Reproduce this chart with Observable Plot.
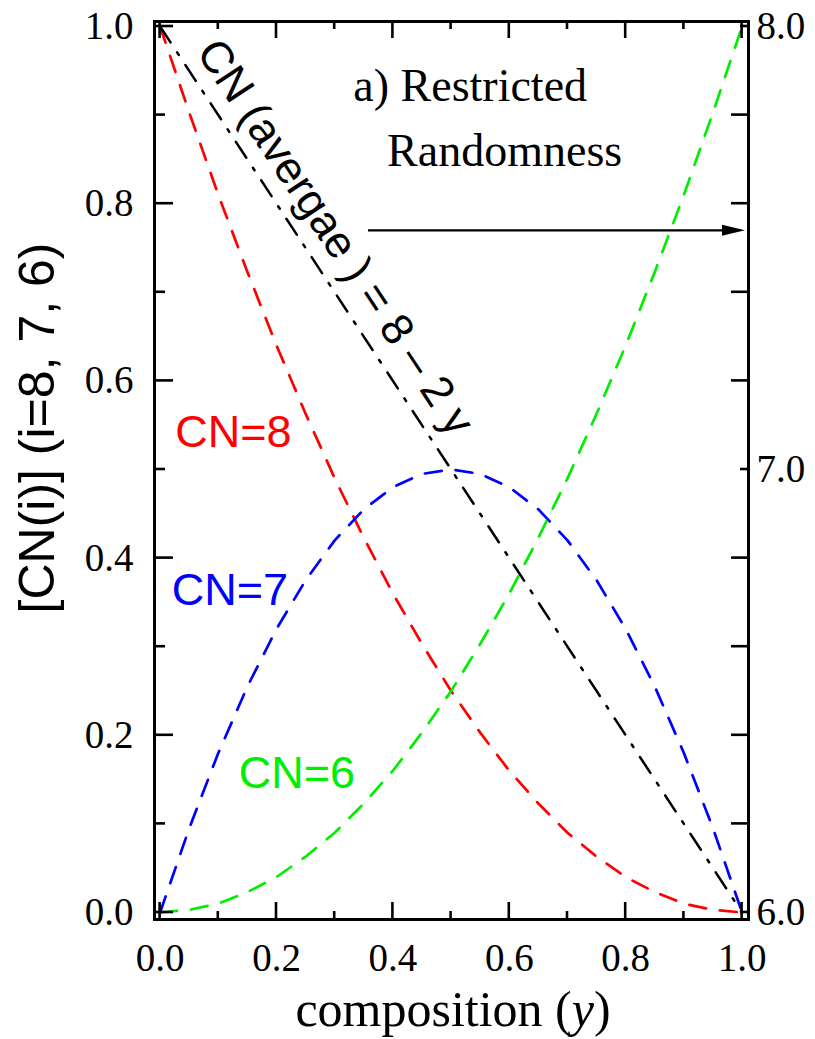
<!DOCTYPE html>
<html>
<head>
<meta charset="utf-8">
<script src="https://cdn.jsdelivr.net/npm/d3@7"></script>
<script src="https://cdn.jsdelivr.net/npm/@observablehq/plot@0.6"></script>
<style>
  html, body { margin: 0; padding: 0; background: #fff; }
  svg { display: block; }
</style>
</head>
<body>
<div id="chart"></div>
<script>
// ---- data ----
const comp = [0, 0.05, 0.10, 0.15, 0.20, 0.25, 0.30, 0.35, 0.40, 0.45, 0.50,
              0.55, 0.60, 0.65, 0.70, 0.75, 0.80, 0.85, 0.90, 0.95, 1.00];
const cn8 = [1.000, 0.903, 0.810, 0.723, 0.640, 0.563, 0.490, 0.423, 0.360, 0.303, 0.250,
             0.203, 0.160, 0.123, 0.090, 0.063, 0.040, 0.023, 0.010, 0.003, 0.000];
const cn7 = [0.000, 0.095, 0.180, 0.255, 0.320, 0.375, 0.420, 0.455, 0.480, 0.495, 0.500,
             0.495, 0.480, 0.455, 0.420, 0.375, 0.320, 0.255, 0.180, 0.095, 0.000];
const cn6 = [0.000, 0.003, 0.010, 0.023, 0.040, 0.063, 0.090, 0.123, 0.160, 0.203, 0.250,
             0.303, 0.360, 0.423, 0.490, 0.563, 0.640, 0.723, 0.810, 0.903, 1.000];
// average coordination number (right axis) at the two ends
const avgComp = [0, 1];
const avgCN = [8.0, 6.0];

const xTickLabels = [0.0, 0.2, 0.4, 0.6, 0.8, 1.0];
const xMinorTicks = [0.1, 0.3, 0.5, 0.7, 0.9];
const yTickLabels = [0.0, 0.2, 0.4, 0.6, 0.8, 1.0];
const yMinorTicks = [0.1, 0.3, 0.5, 0.7, 0.9];
const rightTickLabels = [6.0, 7.0, 8.0];
const rightMinorTicks = [6.2, 6.4, 6.6, 6.8, 7.2, 7.4, 7.6, 7.8];
const rightMin = 6.0, rightMax = 8.0;

(function () {
const arrowFrom = 0.358, arrowTo = 1.005, arrowLevel = 0.77;

const toRight = v => (v - rightMin) / (rightMax - rightMin);
const series = [
  {name: "CN=8", values: cn8, color: "#ff0000"},
  {name: "CN=7", values: cn7, color: "#0000ff"},
  {name: "CN=6", values: cn6, color: "#00ee00"}
];
const curveRows = series.flatMap(s => comp.map((c, i) => ({c, v: s.values[i], name: s.name, color: s.color})));
const avgRows = avgComp.map((c, i) => ({c, v: toRight(avgCN[i])}));

const serif = "'Liberation Serif', 'Times New Roman', serif";
const sans = "'Liberation Sans', Arial, sans-serif";

const headSymbol = {
  draw(ctx) {
    ctx.moveTo(0, 0);
    ctx.lineTo(-23, -5.5);
    ctx.lineTo(-23, 5.5);
    ctx.closePath();
  }
};

const serifLabels = [
  {c: 0.332, v: 0.916, text: "a) Restricted"},
  {c: 0.390, v: 0.843, text: "Randomness"}
];
const cnLabels = [
  {c: 0.026, v: 0.525, text: "CN=8", color: "#ff0000"},
  {c: 0.020, v: 0.347, text: "CN=7", color: "#0000ff"},
  {c: 0.135, v: 0.141, text: "CN=6", color: "#00ee00"}
];

const W = 815, H = 1039;
const mL = 154, mR = 67, mT = 21, mB = 120;

const plot = Plot.plot({
  width: W, height: H,
  marginLeft: mL, marginRight: mR, marginTop: mT, marginBottom: mB,
  x: {domain: [0, 1], insetLeft: 5.6, insetRight: 6.4},
  y: {domain: [0, 1], insetTop: 5, insetBottom: 7},
  style: {background: "white", overflow: "visible"},
  marks: [
    Plot.axisX({ticks: xTickLabels, tickSize: 0, tickPadding: 24, tickFormat: d => d.toFixed(1),
      fontSize: 39, fontFamily: serif, label: null, fill: "black"}),
    Plot.axisY({ticks: yTickLabels, tickSize: 0, tickPadding: 21, tickFormat: d => d.toFixed(1),
      fontSize: 39, fontFamily: serif, label: null, fill: "black"}),
    Plot.axisY({anchor: "right", ticks: rightTickLabels.map(toRight), tickSize: 0, tickPadding: 8,
      tickFormat: d => (rightMin + d * (rightMax - rightMin)).toFixed(1),
      fontSize: 39, fontFamily: serif, label: null, fill: "black"}),
    Plot.line(curveRows, {x: "c", y: "v", z: "name", stroke: "color", strokeWidth: 2.7,
      strokeDasharray: "17,14"}),
    Plot.line(avgRows, {x: "c", y: "v", stroke: "black", strokeWidth: 2.5,
      strokeDasharray: "19,12,3,12"}),
    Plot.ruleY([arrowLevel], {x1: arrowFrom, x2: arrowTo - 0.03, stroke: "black", strokeWidth: 2.2}),
    Plot.dot([arrowLevel], {x: () => arrowTo, y: d => d, symbol: headSymbol, fill: "black", stroke: "none", r: 5}),
    Plot.text(serifLabels, {x: "c", y: "v", text: "text", fill: "black", fontFamily: serif, fontSize: 46,
      textAnchor: "start", lineAnchor: "bottom"}),
    Plot.text(cnLabels, {x: "c", y: "v", text: "text", fill: "color", fontFamily: sans, fontSize: 45,
      textAnchor: "start", lineAnchor: "bottom"}),
    Plot.text(["CN (avergae ) = 8 \u2013 2 y"], {x: () => 0.301, y: () => 0.762, text: d => d,
      rotate: 56.5, fill: "black", fontFamily: sans, fontSize: 44.5, textAnchor: "middle", lineAnchor: "middle"}),
    Plot.frame({stroke: "black", strokeWidth: 3})
  ]
});

const sx = plot.scale("x"), sy = plot.scale("y");
const svg = d3.select(plot);
const fl = mL, fr = W - mR, ft = mT, fb = H - mB;
const tg = svg.append("g").attr("stroke", "black").attr("stroke-width", 2.6);
function tickX(vals, len) {
  vals.forEach(v => {
    const px = sx.apply(v);
    tg.append("line").attr("x1", px).attr("x2", px).attr("y1", fb).attr("y2", fb - len);
    tg.append("line").attr("x1", px).attr("x2", px).attr("y1", ft).attr("y2", ft + len);
  });
}
function tickYLeft(vals, len) {
  vals.forEach(v => {
    const py = sy.apply(v);
    tg.append("line").attr("x1", fl).attr("x2", fl + len).attr("y1", py).attr("y2", py);
  });
}
function tickYRight(vals, len) {
  vals.forEach(v => {
    const py = sy.apply(toRight(v));
    tg.append("line").attr("x1", fr).attr("x2", fr - len).attr("y1", py).attr("y2", py);
  });
}
tickX(xTickLabels, 17);
tickX(xMinorTicks, 8);
tickYLeft(yTickLabels, 19);
tickYLeft(yMinorTicks, 11);
tickYRight(rightTickLabels, 8);
tickYRight(rightMinorTicks, 17);

const xl = svg.append("text")
  .attr("x", 453).attr("y", 1026)
  .attr("text-anchor", "middle")
  .attr("font-family", serif).attr("font-size", 50).attr("fill", "black");
xl.append("tspan").text("composition (");
xl.append("tspan").attr("font-style", "italic").text("y");
xl.append("tspan").text(")");

svg.append("text")
  .attr("transform", "translate(54,428) rotate(-90)")
  .attr("text-anchor", "middle")
  .attr("font-family", sans).attr("font-size", 50).attr("fill", "black")
  .text("[CN(i)] (i=8, 7, 6)");

document.getElementById("chart").appendChild(plot);
})();
</script>
</body>
</html>
